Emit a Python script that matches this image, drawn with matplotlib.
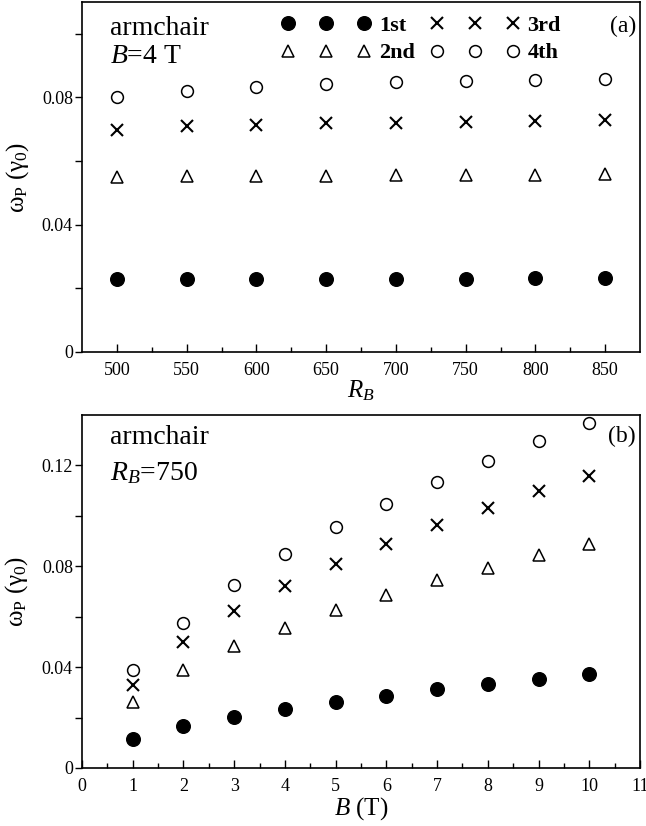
import matplotlib
matplotlib.use("Agg")
import matplotlib.pyplot as plt
from matplotlib.ticker import FixedLocator, FixedFormatter, MultipleLocator

plt.rcParams['font.family'] = ['Liberation Serif', 'DejaVu Serif']
plt.rcParams['mathtext.fontset'] = 'custom'
plt.rcParams['mathtext.rm'] = 'Liberation Serif'
plt.rcParams['mathtext.it'] = 'Liberation Serif:italic'
plt.rcParams['mathtext.bf'] = 'Liberation Serif:bold'

# ---- data: panel (a), B = 4 T ----
rb = [500, 550, 600, 650, 700, 750, 800, 850]
a_1st = [0.0230, 0.0230, 0.0230, 0.0231, 0.0231, 0.0231, 0.0232, 0.0232]
a_2nd = [0.0550, 0.0552, 0.0553, 0.0554, 0.0555, 0.0556, 0.0557, 0.0558]
a_3rd = [0.0699, 0.0709, 0.0715, 0.0719, 0.0721, 0.0724, 0.0726, 0.0728]
a_4th = [0.0801, 0.0821, 0.0832, 0.0842, 0.0848, 0.0853, 0.0855, 0.0857]

# ---- data: panel (b), R_B = 750 ----
bfield = [1, 2, 3, 4, 5, 6, 7, 8, 9, 10]
b_1st = [0.0114, 0.0167, 0.0204, 0.0234, 0.0263, 0.0287, 0.0313, 0.0334, 0.0354, 0.0373]
b_2nd = [0.0263, 0.0389, 0.0482, 0.0557, 0.0628, 0.0687, 0.0744, 0.0793, 0.0844, 0.0890]
b_3rd = [0.0330, 0.0498, 0.0621, 0.0720, 0.0810, 0.0890, 0.0965, 0.1032, 0.1098, 0.1157]
b_4th = [0.0389, 0.0577, 0.0727, 0.0850, 0.0954, 0.1049, 0.1136, 0.1216, 0.1295, 0.1367]

labels = ['1st', '2nd', '3rd', '4th']

fig = plt.figure(figsize=(6.46, 8.26), dpi=100)
W, H = 646, 826
axL, axR = 82, 640
ax1 = fig.add_axes([axL / W, 1 - 352 / H, (axR - axL) / W, 350 / H])
ax2 = fig.add_axes([axL / W, 1 - 768 / H, (axR - axL) / W, 353 / H])

def draw(ax, x, s1, s2, s3, s4):
    h1, = ax.plot(x, s1, ls='none', marker='o', ms=9.8, mfc='black', mec='black', clip_on=False)
    h2, = ax.plot(x, s2, ls='none', marker='^', ms=8.0, mfc='none', mec='black', mew=1.1, clip_on=False)
    h3, = ax.plot(x, s3, ls='none', marker='x', ms=8.5, mec='black', mew=1.5, clip_on=False)
    h4, = ax.plot(x, s4, ls='none', marker='o', ms=8.5, mfc='none', mec='black', mew=1.1, clip_on=False)
    return [h1, h2, h3, h4]

handles = draw(ax1, rb, a_1st, a_2nd, a_3rd, a_4th)
draw(ax2, bfield, b_1st, b_2nd, b_3rd, b_4th)

tick_fs = 13
for ax in (ax1, ax2):
    for sp in ax.spines.values():
        sp.set_linewidth(1.2)
    ax.tick_params(axis='x', which='major', direction='in', length=6, width=1.0, labelsize=tick_fs, pad=7)
    ax.tick_params(axis='x', which='minor', direction='in', length=3.5, width=1.0)
    ax.tick_params(axis='y', which='both', direction='out', length=5, width=1.0, labelsize=tick_fs, pad=1.5)

# panel (a)
ax1.set_xlim(475, 875)
ax1.set_ylim(0, 0.11)
ax1.xaxis.set_major_locator(FixedLocator(rb))
ax1.xaxis.set_minor_locator(FixedLocator([525, 575, 625, 675, 725, 775, 825]))
ax1.yaxis.set_major_locator(FixedLocator([0, 0.04, 0.08]))
ax1.yaxis.set_major_formatter(FixedFormatter(['0', '0.04', '0.08']))
ax1.yaxis.set_minor_locator(FixedLocator([0.02, 0.06, 0.10]))
ax1.set_xlabel(r'$R_B$', fontsize=18, labelpad=0)
ax1.set_ylabel(r'$\mathrm{\omega_P\ (\gamma_0)}$', fontsize=18, labelpad=8)
ax1.text(0.05, 0.925, 'armchair', transform=ax1.transAxes, fontsize=20, va='center', ha='left')
ax1.text(0.05, 0.845, r'$B$=4 T', transform=ax1.transAxes, fontsize=20, va='center', ha='left')
ax1.text(0.993, 0.93, '(a)', transform=ax1.transAxes, fontsize=17, va='center', ha='right')
leg = ax1.legend(handles, labels, ncol=2, numpoints=3, loc='upper left',
                 bbox_to_anchor=(0.358, 0.963), frameon=False,
                 prop={'weight': 'bold', 'size': 16}, handlelength=4.0,
                 handletextpad=0.37, columnspacing=0.7, labelspacing=0.33,
                 borderpad=0.0, borderaxespad=0.0)

# panel (b)
ax2.set_xlim(0, 11)
ax2.set_ylim(0, 0.14)
ax2.xaxis.set_major_locator(MultipleLocator(1))
ax2.xaxis.set_minor_locator(MultipleLocator(0.5))
ax2.yaxis.set_major_locator(FixedLocator([0, 0.04, 0.08, 0.12]))
ax2.yaxis.set_major_formatter(FixedFormatter(['0', '0.04', '0.08', '0.12']))
ax2.yaxis.set_minor_locator(FixedLocator([0.02, 0.06, 0.10]))
ax2.set_xlabel(r'$B$ (T)', fontsize=18, labelpad=0)
ax2.set_ylabel(r'$\mathrm{\omega_P\ (\gamma_0)}$', fontsize=18, labelpad=8)
ax2.text(0.05, 0.935, 'armchair', transform=ax2.transAxes, fontsize=20, va='center', ha='left')
ax2.text(0.05, 0.835, r'$R_B$=750', transform=ax2.transAxes, fontsize=20, va='center', ha='left')
ax2.text(0.993, 0.94, '(b)', transform=ax2.transAxes, fontsize=17, va='center', ha='right')

fig.savefig('out.png', dpi=100)
